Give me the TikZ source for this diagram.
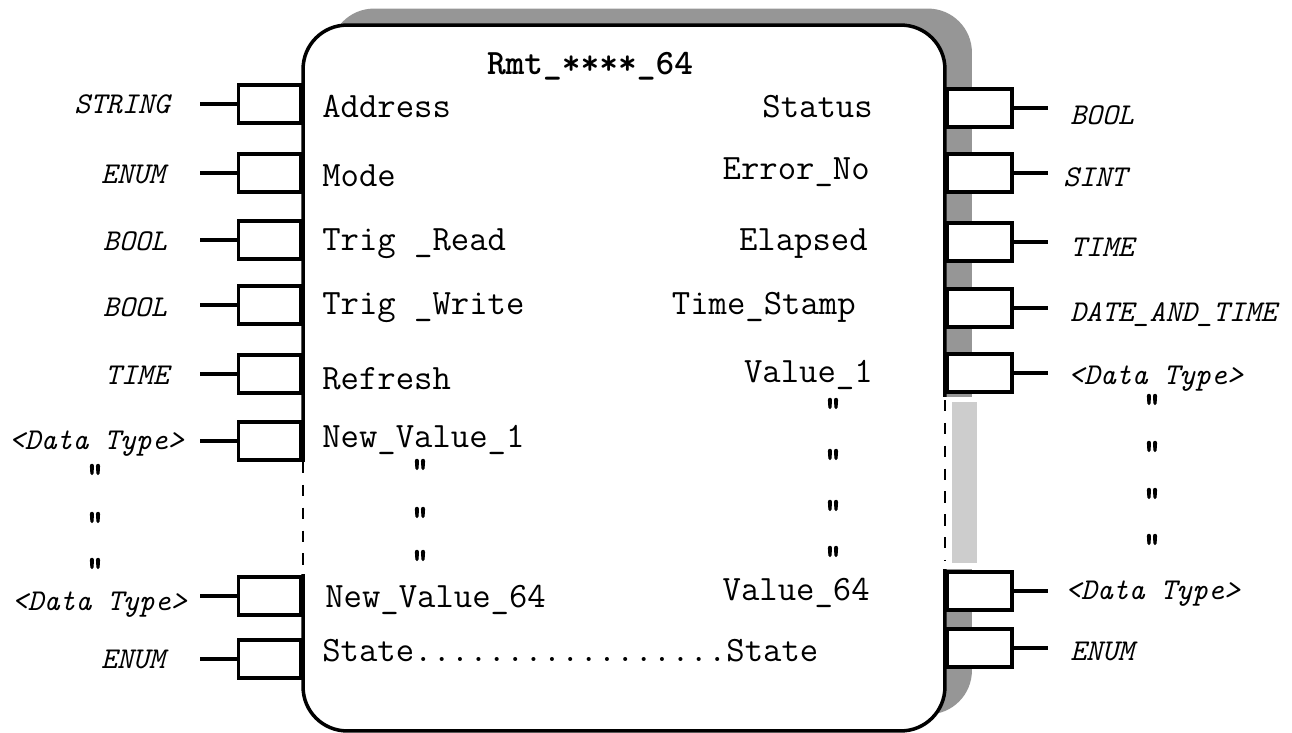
\documentclass[tikz,border=0pt]{standalone}
\usepackage{fontspec}
\usepackage{xcolor}
\usepackage{tikz}
\usetikzlibrary{positioning, calc}
\newfontfamily\dittofont{lmmono10-regular.otf}[FakeBold=3]
\definecolor{shadowgray}{RGB}{150, 150, 150}
\definecolor{shadowlight}{RGB}{205, 205, 205}

\tikzset{
    fbbody/.style={draw, fill=white, line width=2pt, rounded corners=0.88cm,
        minimum width=12.84cm, minimum height=14.12cm, inner sep=0pt},
    fbshadow/.style={fill=shadowgray, rounded corners=0.88cm,
        minimum width=12.84cm, minimum height=14.12cm, inner sep=0pt},
    pinbox/.style={draw, fill=white, line width=2pt, minimum width=1.26cm,
        minimum height=0.76cm, inner sep=0pt},
    wire/.style={line width=2pt},
    typelbl/.style={font=\ttfamily\itshape\fontsize{17.2}{19}\selectfont, inner sep=0pt},
    portlbl/.style={font=\ttfamily\fontsize{20.3}{22}\selectfont, inner sep=0pt},
    titlelbl/.style={font=\ttfamily\bfseries\fontsize{20.3}{22}\selectfont, inner sep=0pt},
    ditto/.style={font=\dittofont\fontsize{19.5}{20}\selectfont, inner sep=0pt, anchor=north},
}

\begin{document}
\begin{tikzpicture}[x=0.02cm, y=-0.02cm]
        \useasboundingbox (0,0) rectangle (1292,733);

        % Shadow and block body
        \node[fbshadow] (shadow) at (651,361.5) {};
        \node[fbbody] (fb) at (624,378) {};
        \node[titlelbl] (title) at (590,66) {Rmt\_****\_64};

        % Open sides of the block
        \fill[white] (296,462) rectangle (310,574);
        \draw[line width=1pt, dash pattern=on 6.5pt off 6.5pt] (303,462) -- (303,574);
        \fill[white] (938,397) rectangle (990,569);
        \fill[shadowlight] (952,402) rectangle (977,563);
        \draw[line width=1pt, dash pattern=on 6.5pt off 6.5pt] (945,400) -- (945,560);

        % Inputs
        \foreach \y/\ty/\tname/\tx [count=\i] in {104/110/STRING/170, 173/180/ENUM/165,
                240/247/BOOL/167, 305/313/BOOL/167, 374/381/TIME/169,
                441/446/{<Data Type>}/184, 596/607/{<Data Type>}/187, 659/665/ENUM/165} {
            \node[pinbox, anchor=east] (in\i) at (303,\y) {};
            \coordinate (inend\i) at (200,\y);
            \draw[wire] (in\i.west) -- (inend\i);
            \node[typelbl, anchor=mid east] (intype\i) at (\tx,\ty) {\tname};
        }

        % Outputs
        \foreach \y/\ty/\tname/\tx [count=\i] in {108/121/BOOL/1070, 173/183/SINT/1063,
                242/253/TIME/1070, 308/318/DATE\_AND\_TIME/1070,
                373/381/{<Data Type>}/1068, 591/596/{<Data Type>}/1065, 648/657/ENUM/1070} {
            \node[pinbox, anchor=west, minimum width=1.3cm] (out\i) at (945,\y) {};
            \coordinate (outend\i) at (1048,\y);
            \draw[wire] (out\i.east) -- (outend\i);
            \node[typelbl, anchor=mid west] (outtype\i) at (\tx,\ty) {\tname};
        }

        % Port names
        \node[portlbl, anchor=mid west] (paddr) at (322,114) {Address};
        \node[portlbl, anchor=mid west] (pmode) at (322,183) {Mode};
        \node[portlbl, anchor=mid west] (ptrigr) at (322,247) {Trig \_Read};
        \node[portlbl, anchor=mid west] (ptrigw) at (322,311) {Trig \_Write};
        \node[portlbl, anchor=mid west] (prefr) at (322,386) {Refresh};
        \node[portlbl, anchor=mid west] (pnew1) at (322,444) {New\_Value\_1};
        \node[portlbl, anchor=mid west] (pnew64) at (325,604) {New\_Value\_64};
        \node[portlbl, anchor=mid west] (pstate) at (322,658) {State.................State};
        \node[portlbl, anchor=mid east] (pstat) at (873,114) {Status};
        \node[portlbl, anchor=mid east] (perr) at (870,176) {Error\_No};
        \node[portlbl, anchor=mid east] (pelap) at (868,247) {Elapsed};
        \node[portlbl, anchor=mid east] (pstamp) at (856,311) {Time\_Stamp};
        \node[portlbl, anchor=mid east] (pval1) at (873,379) {Value\_1};
        \node[portlbl, anchor=mid east] (pval64) at (870,597) {Value\_64};

        % Ditto marks
        \foreach \y in {464,512,558} \node[ditto] at (95,\y) {"};
        \foreach \y in {459,507,550} \node[ditto] at (420,\y) {"};
        \foreach \y in {398,449,500,546} \node[ditto] at (833,\y) {"};
        \foreach \y in {394,441,488,534} \node[ditto] at (1152,\y) {"};
    \end{tikzpicture}
\end{document}
